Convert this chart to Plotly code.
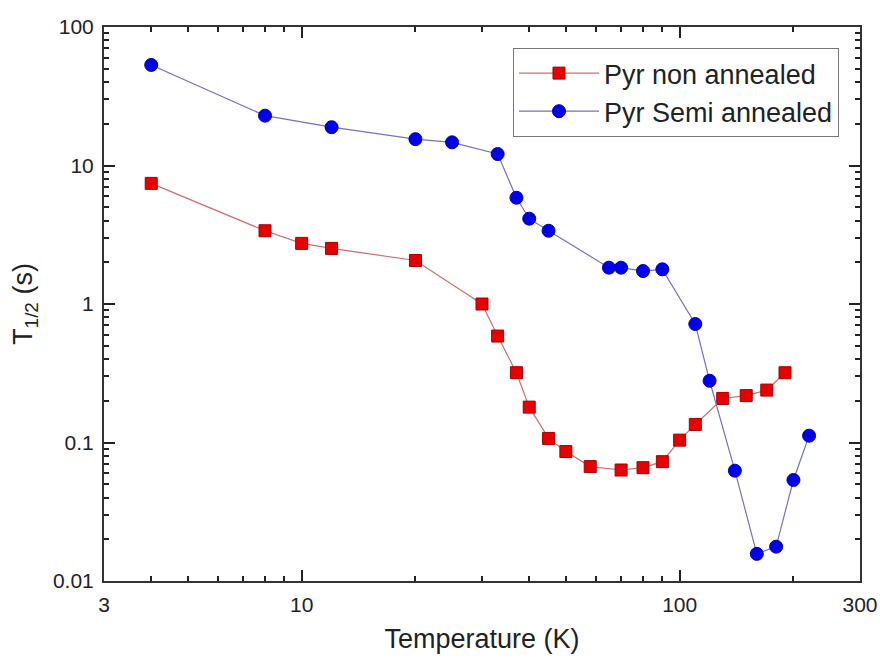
import plotly.graph_objects as go
import numpy as np

# Temperature (K) and T1/2 (s)
temp_non = [4, 8, 10, 12, 20, 30, 33, 37, 40, 45, 50, 58, 70, 80, 90, 100, 110, 130, 150, 170, 190]
t_half_non = [7.43, 3.38, 2.74, 2.52, 2.06, 1.0, 0.587, 0.319, 0.18, 0.107, 0.086, 0.067, 0.0633,
              0.0658, 0.0727, 0.104, 0.135, 0.208, 0.218, 0.239, 0.319]

temp_semi = [4, 8, 12, 20, 25, 33, 37, 40, 45, 65, 70, 80, 90, 110, 120, 140, 160, 180, 200, 220]
t_half_semi = [53.2, 22.9, 18.9, 15.5, 14.7, 12.1, 5.85, 4.13, 3.38, 1.83, 1.83, 1.73, 1.78,
               0.717, 0.279, 0.0626, 0.0157, 0.0177, 0.0536, 0.112]

x_tickvals = [3, 10, 100, 300]
x_ticktext = ["3", "10", "100", "300"]
x_minor = [4, 5, 6, 7, 8, 9, 20, 30, 40, 50, 60, 70, 80, 90, 200]
y_tickvals = [0.01, 0.1, 1, 10, 100]
y_ticktext = ["0.01", "0.1", "1", "10", "100"]
y_minor = [m * d for d in [0.01, 0.1, 1, 10] for m in range(2, 10)]

FONT = "Liberation Sans, Arial, sans-serif"

fig = go.Figure()
fig.add_trace(go.Scatter(
    x=temp_non, y=t_half_non, mode="lines+markers", name="Pyr non annealed",
    line=dict(color="rgb(205,110,110)", width=1.2),
    marker=dict(symbol="square", size=12, color="rgb(230,0,0)",
                line=dict(color="rgb(170,0,0)", width=1)),
))
fig.add_trace(go.Scatter(
    x=temp_semi, y=t_half_semi, mode="lines+markers", name="Pyr Semi annealed",
    line=dict(color="rgb(115,115,190)", width=1.2),
    marker=dict(symbol="circle", size=13, color="rgb(0,0,235)",
                line=dict(color="rgb(0,0,170)", width=1)),
))

axis_common = dict(
    showline=True, linecolor="#333", linewidth=2, mirror="allticks",
    ticks="inside", ticklen=11, tickwidth=1.5, tickcolor="#222",
    showgrid=False, zeroline=False,
    tickfont=dict(family=FONT, size=21, color="#222"),
    ticklabeloverflow="allow",
)

fig.update_xaxes(
    type="log", range=[np.log10(3), np.log10(300)],
    tickmode="array", tickvals=x_tickvals, ticktext=x_ticktext,
    minor=dict(tickmode="array", tickvals=x_minor, ticks="inside", ticklen=5,
               tickwidth=1.5, tickcolor="#222", showgrid=False),
    title=dict(text="Temperature (K)", font=dict(family=FONT, size=27, color="#222"), standoff=14),
    ticklabelstandoff=4,
    **axis_common,
)
fig.update_yaxes(
    type="log", range=[-2, 2],
    tickmode="array", tickvals=y_tickvals, ticktext=y_ticktext,
    minor=dict(tickmode="array", tickvals=y_minor, ticks="inside", ticklen=5,
               tickwidth=1.5, tickcolor="#222", showgrid=False),
    title=dict(text="T<sub>1/2</sub> (s)", font=dict(family=FONT, size=27, color="#222"), standoff=12),
    ticklabelstandoff=4,
    **axis_common,
)

fig.update_layout(
    width=880, height=660,
    margin=dict(l=104, r=20, t=27, b=79, autoexpand=False),
    paper_bgcolor="white", plot_bgcolor="white",
    font=dict(family=FONT, color="#222"),
    legend=dict(
        x=0.541, y=0.962, xanchor="left", yanchor="top",
        bgcolor="white", bordercolor="#777", borderwidth=1,
        font=dict(family=FONT, size=27, color="#222"),
        itemwidth=80, tracegroupgap=0,
    ),
    showlegend=True,
)

fig.write_html(
    "out.html",
    config={"displayModeBar": False},
    post_script="document.body.style.margin='0';document.body.style.overflow='hidden';",
)
